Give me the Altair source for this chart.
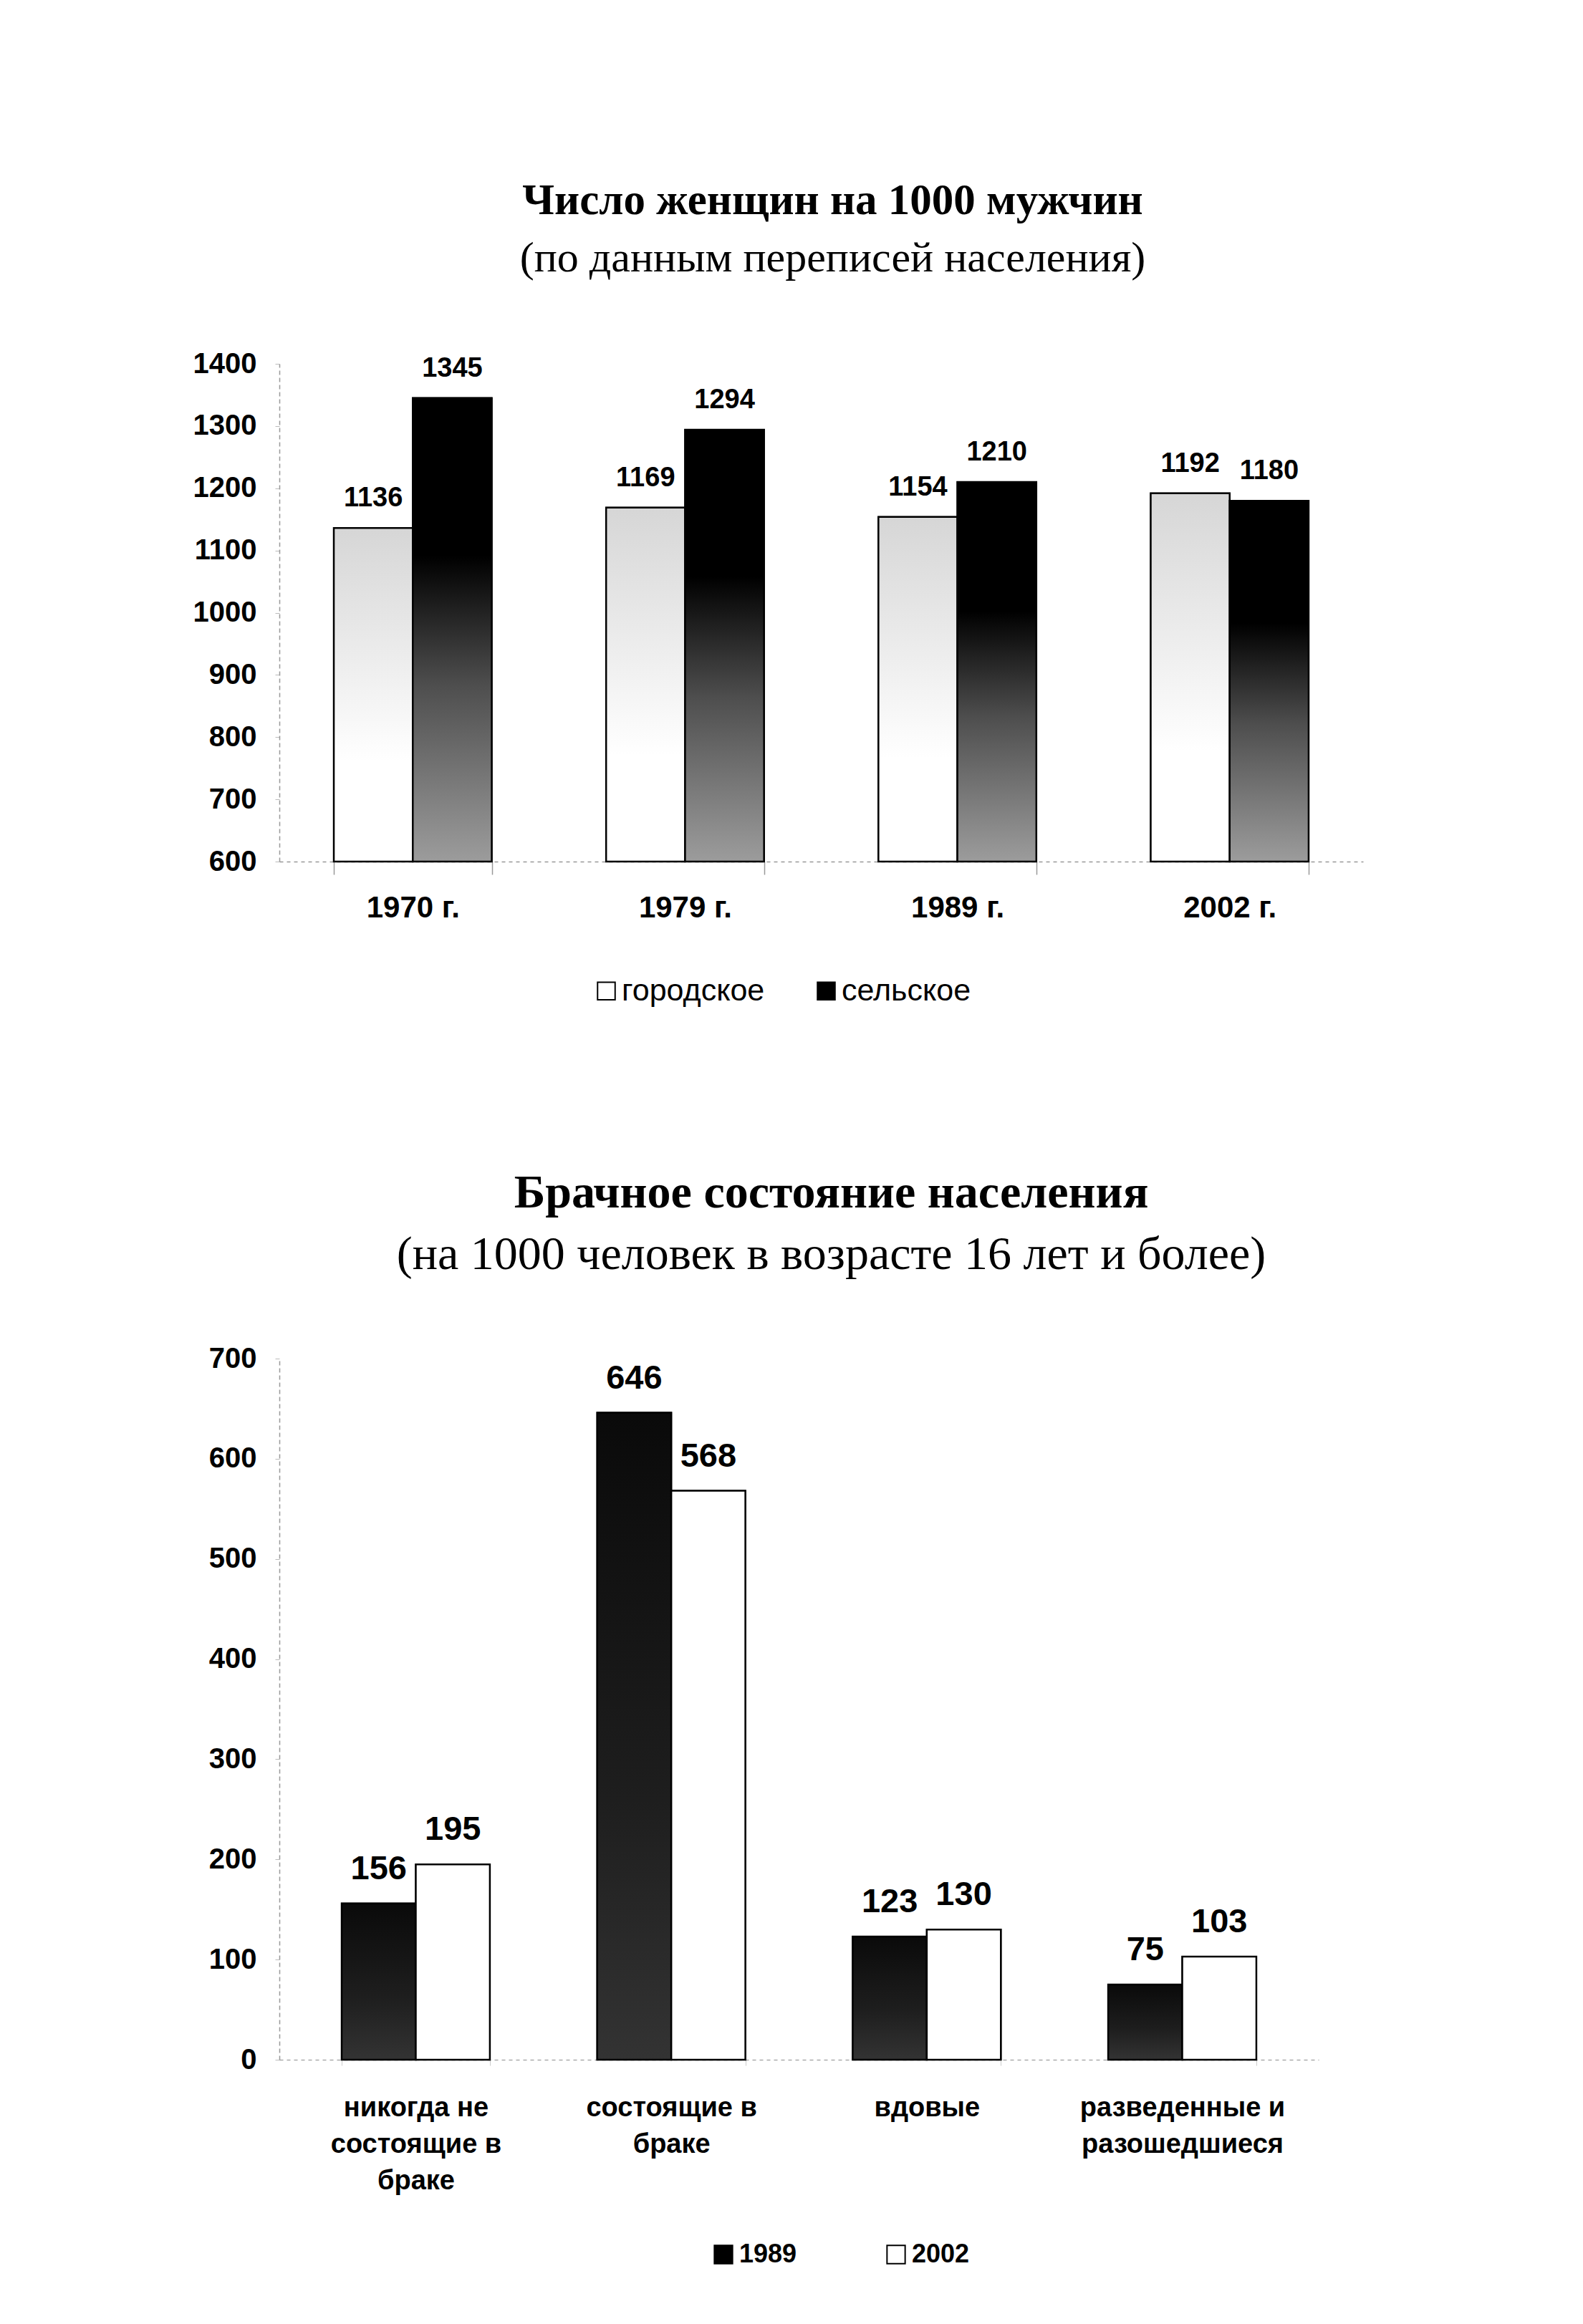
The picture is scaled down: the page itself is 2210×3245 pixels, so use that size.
import altair as alt
import pandas as pd

# ---------- Chart 1 data ----------
years = ["1970 г.", "1979 г.", "1989 г.", "2002 г."]
series1 = ["городское", "сельское"]
urban = [1136, 1169, 1154, 1192]
rural = [1345, 1294, 1210, 1180]
ticks1 = [600, 700, 800, 900, 1000, 1100, 1200, 1300, 1400]

# ---------- Chart 2 data ----------
statuses = ["никогда не|состоящие в|браке", "состоящие в|браке", "вдовые", "разведенные и|разошедшиеся"]
series2 = ["1989", "2002"]
v1989 = [156, 646, 123, 75]
v2002 = [195, 568, 130, 103]
ticks2 = [0, 100, 200, 300, 400, 500, 600, 700]

df1 = pd.DataFrame({
    "year": years * 2,
    "area": [series1[0]] * len(years) + [series1[1]] * len(years),
    "value": urban + rural,
})
df2 = pd.DataFrame({
    "status": statuses * 2,
    "census": [series2[0]] * len(statuses) + [series2[1]] * len(statuses),
    "value2": v1989 + v2002,
})

SANS = "Liberation Sans"
SERIF = "Liberation Serif"

def grad(stops):
    return alt.LinearGradient(
        gradient="linear", x1=0, y1=0, x2=0, y2=1,
        stops=[alt.GradientStop(offset=o, color=c) for o, c in stops],
    )

g_urban = grad([(0, "#d6d6d6"), (0.45, "#f0f0f0"), (0.7, "#ffffff"), (1, "#ffffff")])
g_rural = grad([(0, "#000000"), (0.34, "#000000"), (0.62, "#4e4e4e"), (1, "#9c9c9c")])
g_1989 = grad([(0, "#0a0a0a"), (0.6, "#1e1e1e"), (1, "#333333")])

# ---------- Chart 1 ----------
W1, H1 = 1513, 695
base1 = alt.Chart(df1).encode(
    x=alt.X("year:N", sort=years,
            scale=alt.Scale(paddingInner=0.42, paddingOuter=0.2),
            axis=alt.Axis(title=None, labelAngle=0, labelFont=SANS, labelFontWeight="bold",
                          labelFontSize=42, labelColor="black", labelPadding=26, labelLimit=0,
                          domainColor="#999999", domainDash=[5, 5], domainWidth=1.5,
                          tickBand="extent", tickSize=18, tickColor="#999999", tickWidth=1.5)),
    xOffset=alt.XOffset("area:N", sort=series1, scale=alt.Scale(paddingInner=0, paddingOuter=0)),
    y=alt.Y("value:Q", stack=None,
            scale=alt.Scale(domain=[600, 1400], nice=False, zero=False),
            axis=alt.Axis(title=None, values=ticks1, format="d", labelFont=SANS,
                          labelFontWeight="bold",
                          labelFontSize=40, labelColor="black", labelPadding=26,
                          domainColor="#999999", domainDash=[6, 4], domainWidth=1.5,
                          tickColor="#bbbbbb", tickSize=6, grid=False,
                          minExtent=120, maxExtent=120)),
    y2=alt.datum(600),
)
legend_bars1 = base1.mark_bar(stroke="black", strokeWidth=2).encode(
    color=alt.Color("area:N", sort=series1,
                    scale=alt.Scale(domain=series1, range=["#ffffff", "#000000"]),
                    legend=alt.Legend(title=None, orient="none", direction="horizontal",
                                      legendX=435, legendY=854, symbolType="square",
                                      symbolSize=600, symbolStrokeColor="black",
                                      symbolStrokeWidth=2, labelFont=SANS, labelFontSize=43,
                                      labelColor="black", columnPadding=64, labelOffset=0,
                                      labelLimit=0))
)
bars_u = base1.transform_filter(alt.datum.area == series1[0]).mark_bar(
    fill=g_urban, stroke="black", strokeWidth=2.5)
bars_r = base1.transform_filter(alt.datum.area == series1[1]).mark_bar(
    fill=g_rural, stroke="black", strokeWidth=2.5)
labels1 = base1.mark_text(baseline="bottom", dy=-22, font=SANS, fontWeight="bold",
                          fontSize=38, color="black").encode(text="value:Q")

chart1 = alt.layer(legend_bars1, bars_u, bars_r, labels1).properties(
    width=W1, height=H1,
    title=alt.TitleParams(
        text="Число женщин на 1000 мужчин",
        subtitle="(по данным переписей населения)",
        font=SERIF, fontSize=61, fontWeight="bold", color="black",
        subtitleFont=SERIF, subtitleFontSize=60, subtitleColor="black",
        subtitlePadding=20, anchor="middle", frame="group", offset=96, dx=16,
    ),
)

# ---------- Chart 2 ----------
W2, H2 = 1451, 979
base2 = alt.Chart(df2).encode(
    x=alt.X("status:N", sort=statuses,
            scale=alt.Scale(paddingInner=0.42, paddingOuter=0.244),
            axis=alt.Axis(title=None, labelAngle=0, labelFont=SANS, labelFontWeight="bold",
                          labelFontSize=38, labelColor="black", labelPadding=40, labelLimit=0,
                          labelExpr="split(datum.label, '|')", labelLineHeight=51,
                          labelBaseline="top",
                          domainColor="#aaaaaa", domainDash=[5, 5], domainWidth=1.5,
                          tickBand="extent", tickSize=8, tickColor="#cccccc")),
    xOffset=alt.XOffset("census:N", sort=series2, scale=alt.Scale(paddingInner=0, paddingOuter=0)),
    y=alt.Y("value2:Q", stack=None,
            scale=alt.Scale(domain=[0, 700], nice=False),
            axis=alt.Axis(title=None, values=ticks2, format="d", labelFont=SANS,
                          labelFontWeight="bold",
                          labelFontSize=40, labelColor="black", labelPadding=26,
                          domainColor="#999999", domainDash=[6, 4], domainWidth=1.5,
                          tickColor="#bbbbbb", tickSize=6, grid=False,
                          minExtent=120, maxExtent=120)),
    y2=alt.datum(0),
)
legend_bars2 = base2.mark_bar(stroke="black", strokeWidth=2).encode(
    color=alt.Color("census:N", sort=series2,
                    scale=alt.Scale(domain=series2, range=["#000000", "#ffffff"]),
                    legend=alt.Legend(title=None, orient="none", direction="horizontal",
                                      legendX=602, legendY=1233, symbolType="square",
                                      symbolSize=640, symbolStrokeColor="black",
                                      symbolStrokeWidth=2, labelFont=SANS, labelFontSize=36,
                                      labelFontWeight="bold", labelLimit=0,
                                      labelColor="black", columnPadding=120, labelOffset=4))
)
bars_89 = base2.transform_filter(alt.datum.census == series2[0]).mark_bar(
    fill=g_1989, stroke="black", strokeWidth=2.5)
bars_02 = base2.transform_filter(alt.datum.census == series2[1]).mark_bar(
    fill="#ffffff", stroke="black", strokeWidth=2.5)
labels2 = base2.mark_text(baseline="bottom", dy=-24, font=SANS, fontWeight="bold",
                          fontSize=47, color="black").encode(text="value2:Q")

chart2 = alt.layer(legend_bars2, bars_89, bars_02, labels2).properties(
    width=W2, height=H2,
    title=alt.TitleParams(
        text="Брачное состояние населения",
        subtitle="(на 1000 человек в возрасте 16 лет и более)",
        font=SERIF, fontSize=66, fontWeight="bold", color="black",
        subtitleFont=SERIF, subtitleFontSize=66, subtitleColor="black",
        subtitlePadding=20, anchor="middle", frame="group", offset=91, dx=45,
    ),
)

chart = alt.vconcat(chart1, chart2, spacing=227).resolve_scale(
    color="independent", xOffset="independent", x="independent", y="independent"
).resolve_legend(color="independent").properties(
    padding={"left": 261, "top": 242, "right": 20, "bottom": 20},
    background="white",
).configure_view(stroke=None)

chart.save("out.html", embed_options={"renderer": "svg", "actions": False})
